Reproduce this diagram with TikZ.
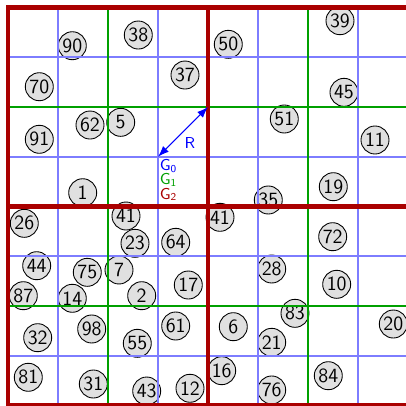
\documentclass[tikz,border=0pt]{standalone}
\usetikzlibrary{arrows.meta}
\definecolor{gridblue}{RGB}{125,125,255}
\definecolor{gridgreen}{RGB}{0,160,0}
\definecolor{gridred}{RGB}{170,0,0}
\definecolor{ballgray}{RGB}{224,224,224}
\tikzset{
  ball/.style={circle, draw=black, line width=0.5pt, fill=ballgray, minimum size=0.56cm, inner sep=0pt, font=\sffamily\fontsize{11.5}{11.5}\selectfont},
  gzero/.style={gridblue, line width=0.9pt},
  gone/.style={gridgreen, line width=1.3pt},
  gtwo/.style={gridred, line width=2.6pt},
  lbl/.style={anchor=west, inner sep=0pt, font=\sffamily\fontsize{9}{9}\selectfont},
  radarrow/.style={blue, line width=0.6pt, {Latex[length=2.2mm,width=1.6mm]}-{Latex[length=2.2mm,width=1.6mm]}}
}
\begin{document}
\begin{tikzpicture}[x=1cm,y=0.995cm]
\useasboundingbox (-0.16,-0.01) rectangle (7.96,8.151);
% balls
\foreach \n/\t/\x/\y in {90/90/1.286/7.232, 38/38/2.606/7.447, 70/70/0.626/6.408, 37/37/3.54/6.643,
  62/62/1.64/5.638, 5/5/2.254/5.692, 91/91/0.626/5.351, 1/1/1.494/4.277,
  50/50/4.406/7.260, 39/39/6.64/7.735, 45/45/6.72/6.295, 51/51/5.526/5.759,
  11/11/7.34/5.337, 19/19/6.506/4.398, 35/35/5.206/4.131,
  26/26/0.326/3.662, 41a/41/2.36/3.809, 23/23/2.54/3.260, 64/64/3.354/3.280,
  44/44/0.574/2.810, 75/75/1.586/2.677, 7/7/2.22/2.724, 87/87/0.306/2.207,
  14/14/1.286/2.155, 2/2/2.674/2.207, 17/17/3.606/2.422, 98/98/1.674/1.538,
  32/32/0.594/1.363, 55/55/2.586/1.250, 61/61/3.354/1.598, 81/81/0.406/0.567,
  31/31/1.706/0.432, 43/43/2.774/0.291, 12/12/3.64/0.346,
  41b/41/4.24/3.783, 72/72/6.494/3.393, 28/28/5.274/2.744, 10/10/6.574/2.436,
  83/83/5.74/1.853, 6/6/4.506/1.584, 21/21/5.274/1.270, 20/20/7.706/1.638,
  16/16/4.274/0.700, 76/76/5.274/0.312, 84/84/6.406/0.599}
{
  \node[ball] (n\n) at (\x,\y) {\t};
}
% grid G0
\foreach \i in {1,3,5,7} {
  \draw[gzero] (\i,0) -- (\i,8);
  \draw[gzero] (0,\i) -- (8,\i);
}
% grid G1
\foreach \i in {2,6} {
  \draw[gone] (\i,0) -- (\i,8);
  \draw[gone] (0,\i) -- (8,\i);
}
% grid G2
\draw[gtwo] (0,0) rectangle (8,8);
\draw[gtwo] (4,0) -- (4,8);
\draw[gtwo] (0,4) -- (8,4);
% radius arrow
\coordinate (ra) at (4,6);
\coordinate (rb) at (3,5);
\draw[radarrow] (rb) -- (ra);
\node[lbl, text=blue, anchor=center] (rlab) at (3.64,5.276) {R};
\node[lbl, text=blue] (g0) at (3.03,4.82) {G\textsubscript{0}};
\node[lbl, text=gridgreen] (g1) at (3.03,4.533) {G\textsubscript{1}};
\node[lbl, text=gridred] (g2) at (3.03,4.245) {G\textsubscript{2}};
\end{tikzpicture}
\end{document}
